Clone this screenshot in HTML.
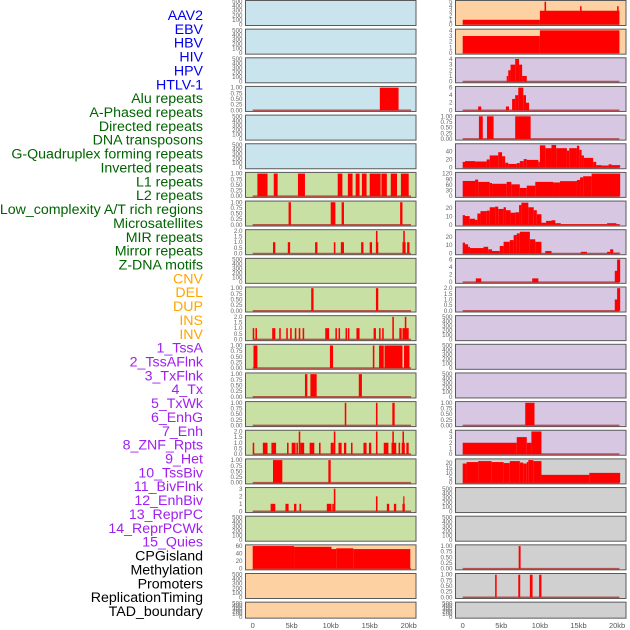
<!DOCTYPE html>
<html><head><meta charset="utf-8"><style>
html,body{margin:0;padding:0;background:#fff;}
svg{display:block;font-family:"Liberation Sans",sans-serif;}
</style></head><body>
<svg id="chart" width="630" height="630" viewBox="0 0 630 630" xmlns="http://www.w3.org/2000/svg"></svg>
<script>
// ---------- data ----------
const trackLabels = ["AAV2","EBV","HBV","HIV","HPV","HTLV-1","Alu repeats","A-Phased repeats","Directed repeats","DNA transposons","G-Quadruplex forming repeats","Inverted repeats","L1 repeats","L2 repeats","Low_complexity A/T rich regions","Microsatellites","MIR repeats","Mirror repeats","Z-DNA motifs","CNV","DEL","DUP","INS","INV","1_TssA","2_TssAFlnk","3_TxFlnk","4_Tx","5_TxWk","6_EnhG","7_Enh","8_ZNF_Rpts","9_Het","10_TssBiv","11_BivFlnk","12_EnhBiv","13_ReprPC","14_ReprPCWk","15_Quies","CPGisland","Methylation","Promoters","ReplicationTiming","TAD_boundary"];
const labelGroups = [6,13,5,15,5];
const xTickLabels = ["0","5kb","10kb","15kb","20kb"];
const xTickValues = [0,5,10,15,20];

const T500=[0,100,200,300,400,500], T1=[0,0.25,0.5,0.75,1], T2=[0,0.5,1,1.5,2];

// left column segments [startKb, endKb, value]
const L3=[[16.3,18.7,1]];
const L6=[[0.6,1.9,1],[2.7,3.2,1],[5.8,6.7,1],[10.9,11.5,1],[12.2,12.8,1],[13.2,13.7,1],[14.0,14.6,1],[15.0,16.4,1],[16.5,17.2,1],[17.7,18.5,1],[19.0,20.0,1]];
const L7=[[4.6,4.9,1],[10.0,10.6,1],[11.4,11.7,1],[18.9,19.2,1]];
const L8=[[2.6,2.9,1],[4.5,4.8,1],[8.0,8.3,1],[10.4,10.6,1],[11.3,11.7,1],[13.9,14.2,1],[15.0,15.3,1],[15.8,16.1,1],[15.8,16.0,2],[19.2,19.6,1],[19.3,19.5,2],[19.8,20.1,1]];
const L10=[[7.5,7.8,1],[15.8,16.1,1]];
const L11=[[0,0.2,1],[0.35,0.55,1],[2.5,2.9,1],[3.4,3.6,1],[4.3,4.5,1],[4.8,5.0,1],[5.4,5.6,1],[5.9,6.1,1],[6.4,6.6,1],[9.3,9.8,1],[10.6,10.8,1],[11.0,11.2,1],[11.9,12.1,1],[12.2,12.4,1],[13.3,13.7,1],[15.5,15.8,1],[16.2,16.4,1],[16.6,16.8,1],[17.9,18.1,2],[18.8,19.1,1],[19.2,20.0,1],[19.5,19.7,2]];
const L12=[[0.1,0.6,1],[9.9,10.3,1],[15.4,15.6,1],[16.2,16.8,1],[16.9,19.2,1],[19.4,20.1,1]];
const L13=[[6.7,7.0,1],[7.4,8.2,1],[13.6,14.0,1]];
const L14=[[11.8,12.0,1],[15.8,16.0,1],[17.9,18.2,1]];
const L15=[[0,0.2,1],[1.3,1.9,1],[2.4,3.0,1],[4.4,4.6,1],[5.0,5.5,1],[5.6,5.8,1],[5.9,6.1,2],[6.1,6.6,1],[7.3,7.9,1],[8.5,8.7,1],[10.0,10.4,1],[10.4,10.6,2],[11.0,11.4,1],[11.7,12.0,1],[12.6,12.8,1],[14.2,14.6,1],[14.9,15.2,1],[15.8,16.0,2],[16.8,17.4,1],[17.8,18.4,1],[17.9,18.1,2],[18.7,18.9,1],[19.1,19.5,1],[19.2,19.4,2],[19.7,20.0,1]];
const L16=[[2.6,3.8,1],[9.7,10.0,1]];
const L17=[[2.3,2.9,1],[4.2,4.6,1],[5.3,5.6,1],[6.0,6.2,1],[9.5,10.1,1],[10.2,10.4,1],[10.4,10.6,3],[15.8,16.0,2],[17.2,17.5,1],[18.1,18.4,1],[19.2,19.5,1],[19.3,19.4,2]];
const L19=[[0,5.3,60],[5.3,10.1,58],[10.1,10.7,52],[10.7,12.9,54],[12.9,20.2,52]];

// right column segments
const R0=[[0,10,1],[10,20.3,3],[10.6,10.8,5],[15.2,15.4,4],[20.0,20.2,4]];
const R1=[[0,10,3],[10,20.3,4]];
const R2=[[5.7,5.9,1],[5.9,6.2,2],[6.2,6.8,3],[6.8,7.3,4],[7.3,7.7,3],[7.7,8.3,1]];
const R3=[[2.0,2.4,1],[5.6,6.0,1],[6.4,6.8,3],[6.8,7.2,4],[7.2,7.85,6],[7.85,8.2,4],[8.2,8.6,2]];
const R4=[[2.1,2.6,1],[3.15,4.0,1],[6.8,8.8,1]];
const R5=[[0,0.3,14],[0.3,1.6,16],[1.6,3.1,15],[3.1,3.5,20],[3.5,4.6,30],[4.6,5.1,38],[5.1,5.5,28],[5.5,5.9,12],[5.9,7.0,9],[7.0,7.4,11],[7.4,7.9,16],[7.9,8.3,21],[8.3,9.8,19],[9.8,10.0,14],[10.0,10.7,55],[10.7,11.5,48],[11.5,12.1,56],[12.1,13.5,48],[13.5,13.8,42],[13.8,14.8,48],[14.8,15.1,54],[15.1,15.4,44],[15.4,15.7,30],[15.7,16.9,24],[16.9,17.3,14],[17.3,18.0,6],[18.0,18.9,5],[18.9,19.3,8],[19.3,20.4,6]];
const R6=[[0,1.6,81],[1.6,2.0,88],[2.0,3.5,76],[3.5,3.8,70],[3.8,5.7,66],[5.7,6.3,76],[6.3,7.4,63],[7.4,8.3,44],[8.3,9.4,56],[9.4,11.7,76],[11.7,12.6,73],[12.6,14.8,80],[14.8,15.2,86],[15.2,15.6,100],[15.6,16.7,106],[16.7,20.4,120]];
const R7=[[0,0.3,11.6],[0.3,0.9,10.5],[0.9,1.6,7.3],[1.6,1.9,6],[1.9,2.3,13.5],[2.3,3.1,16.4],[3.1,3.5,17],[3.5,4.2,21],[4.2,4.6,21.8],[4.6,5.3,19],[5.3,5.6,21],[5.6,6.2,17.5],[6.2,6.8,14.5],[6.8,7.3,15],[7.3,7.6,23.6],[7.6,8.5,26.5],[8.5,9.2,21],[9.2,9.6,17.5],[9.6,10.2,12.7],[10.2,10.8,2.5],[10.8,11.5,4.7],[11.5,12.0,5.5],[12.0,12.7,2],[12.7,18.7,0.7],[18.7,19.9,2],[19.9,20.4,0.7]];
const R8=[[0,0.3,13],[0.3,0.7,11],[0.7,0.95,8],[0.95,2.7,6.5],[2.7,3.3,8],[3.3,3.8,5],[3.8,4.8,3],[4.8,5.3,9],[5.3,6.1,14],[6.1,6.6,16],[6.6,7.0,22],[7.0,7.4,24],[7.4,8.7,26],[8.7,9.4,17],[9.4,10.2,14],[10.7,11.5,3],[15.3,16.1,2],[18.7,19.1,2],[19.1,19.5,5],[19.5,20.4,1]];
const R9=[[1.7,2.4,1],[9.0,9.8,1],[19.7,20.1,3],[20.0,20.4,6]];
const R10=[[19.7,20.1,1],[20.0,20.4,2]];
const R14=[[8.1,9.3,1]];
const R15=[[0,7.0,2],[7.0,8.3,3],[8.3,8.9,2],[8.9,10.2,4]];
const R16=[[0,0.5,19.5],[0.5,2.0,21],[2.0,3.75,22],[3.75,5.3,21],[5.3,6.1,20],[6.1,7.4,22],[7.4,7.85,20.5],[7.85,8.3,19.5],[8.3,8.5,21],[8.5,9.15,23],[9.15,10.2,22],[10.2,16.4,8],[16.4,20.4,10]];
const R19=[[7.25,7.5,1]];
const R20=[[4.2,4.4,1],[7.2,7.45,1],[8.7,9.05,1],[9.9,10.2,1]];

const leftSeries=[null,null,null,L3,null,null,L6,L7,L8,null,L10,L11,L12,L13,L14,L15,L16,L17,null,L19,null,null];
const leftTicks=[T500,T500,T500,T1,T500,T500,T1,T1,T2,T500,T1,T2,T1,T1,T1,T2,T1,[0,1,2,3],T500,[0,20,40,60],T500,T500];
const leftMax=[500,500,500,1,500,500,1,1,2,500,1,2,1,1,1,2,1,3,500,60,500,500];
const rightSeries=[R0,R1,R2,R3,R4,R5,R6,R7,R8,R9,R10,null,null,null,R14,R15,R16,null,null,R19,R20,null];
const rightTicks=[[0,1,2,3,4,5],[0,1,2,3,4],[0,1,2,3,4],[0,2,4,6],T1,[0,20,40],[0,30,60,90,120],[0,10,20],[0,10,20],[0,2,4,6],T2,T500,T500,T500,T1,[0,1,2,3,4],[0,5,10,15,20],T500,T500,T1,T1,T500];
const rightMax=[5,4,4,6,1,56,120,27,27,6,2,500,500,500,1,4,23,500,500,1,1,500];

// ---------- rendering ----------
const NS="http://www.w3.org/2000/svg";
const svg=document.getElementById('chart');
function mk(tag,attrs,parent){const e=document.createElementNS(NS,tag);for(const k in attrs)e.setAttribute(k,attrs[k]);(parent||svg).appendChild(e);return e;}

const leftBg=i=> i<6?'#c9e4ec':(i<19?'#c9e0a5':'#fed1a2');
const rightBg=i=> i<2?'#fed1a2':(i<16?'#d7c7e3':'#d0d0d0');
const xL=kb=>252.7+kb*7.8, xR=kb=>462.7+kb*7.72;
function rowTop(i){return i*28.65;}
function rowH(i){return i===21?16:25;}
function fmt(t,ticks){
  const step=ticks[1]-ticks[0];
  if(step===0.25) return t.toFixed(2);
  if(step===0.5) return t.toFixed(1);
  return String(t);
}

function drawPanel(col,i,series,ticks,ymax){
  const left=col==='L'?245.5:455.5, w=170.5;
  const xf=col==='L'?xL:xR;
  const top=rowTop(i), h=rowH(i);
  const g=mk('g',{});
  
  
  mk('rect',{x:left,y:top+0.5,width:w,height:h,fill:col==='L'?leftBg(i):rightBg(i),stroke:'#5a5a5a','stroke-width':1},g);
  const y=v=>top+0.5+h-1.2-(v/ymax)*(h-2.4);
  const tx=left-3;
  ticks.forEach(t=>{
    const tt=mk('text',{x:tx,y:y(t)+2,'text-anchor':'end','font-size':6.2,fill:'#666'},g);
    tt.textContent=fmt(t,ticks);
    
    
  });
  if(series){
    mk('line',{x1:xf(0),x2:xf(20.3),y1:y(0),y2:y(0),stroke:'rgba(170,30,30,0.7)','stroke-width':1.6},g);
    series.forEach(s=>{
      const x0=xf(s[0]),x1=xf(s[1]);
      const r=mk('rect',{x:x0,y:y(s[2]),width:Math.max(1.2,x1-x0),height:y(0)-y(s[2]),fill:'#ff0000'},g);
      
      
    });
  }
}
for(let i=0;i<22;i++){
  drawPanel('L',i,leftSeries[i],leftTicks[i],leftMax[i]);
  drawPanel('R',i,rightSeries[i],rightTicks[i],rightMax[i]);
}
// x axes
['L','R'].forEach(col=>{
  const xf=col==='L'?xL:xR;
  xTickValues.forEach((v,k)=>{
    const t=mk('text',{x:xf(v),y:628,'text-anchor':'middle','font-size':7.5,fill:'#555'});
    t.textContent=xTickLabels[k];
    
    
  });
});
// track labels
const groupColors=['#0000ee','#006400','#ffa500','#a020f0','#000000'];
let gi=0,cnt=0;
trackLabels.forEach((lab,i)=>{
  while(cnt>=labelGroups[gi]){gi++;cnt=0;}
  cnt++;
  const t=mk('text',{x:203,y:15+i*13.86+5,'text-anchor':'end','font-size':14.2,fill:groupColors[gi]});
  t.textContent=lab;
  
  
});
</script>
</body></html>
